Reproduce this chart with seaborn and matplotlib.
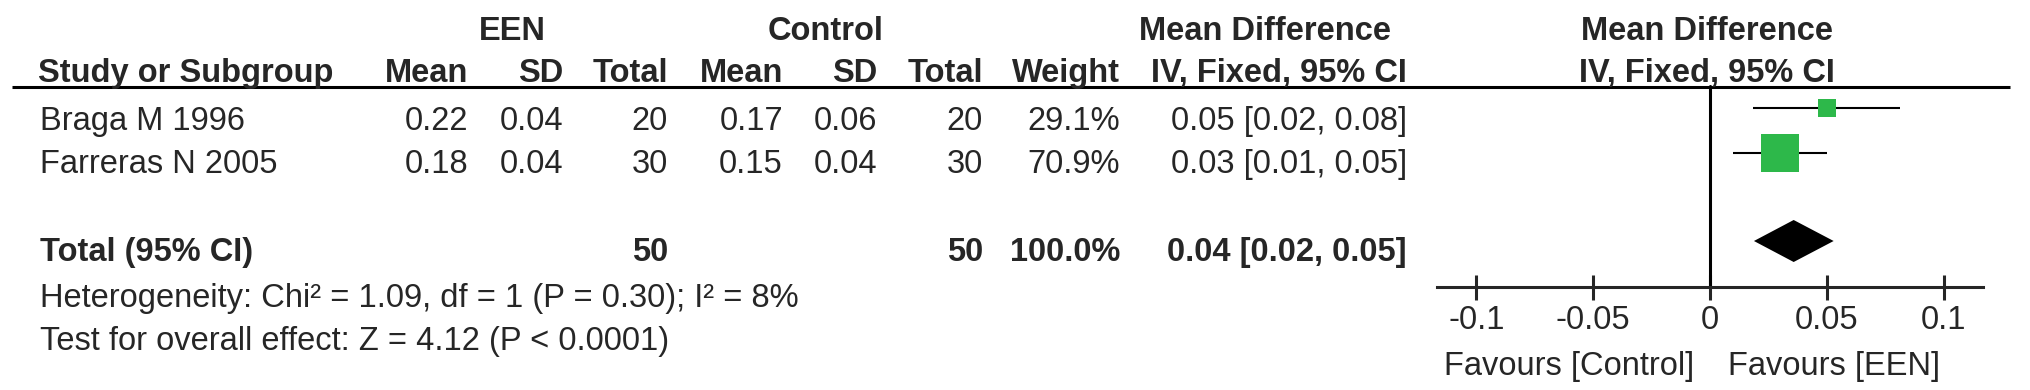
import matplotlib
matplotlib.use("Agg")
import matplotlib.pyplot as plt
import seaborn as sns
import pandas as pd

# data
studies = ["Braga M 1996", "Farreras N 2005"]
een_mean = [0.22, 0.18]
een_sd = [0.04, 0.04]
een_n = [20, 30]
ctl_mean = [0.17, 0.15]
ctl_sd = [0.06, 0.04]
ctl_n = [20, 30]
weight = [29.1, 70.9]
md = [0.050, 0.030]
ci_lo = [0.0185, 0.0098]
ci_hi = [0.0815, 0.0502]
pooled_md = 0.0358
pooled_lo = 0.0188
pooled_hi = 0.0529
chi2, df, p_het, i2 = 1.09, 1, 0.30, 8
z_val = 4.12
xticks = [-0.1, -0.05, 0, 0.05, 0.1]
xtick_labels = ["-0.1", "-0.05", "0", "0.05", "0.1"]

sns.set_style("white")
plt.rcParams["font.family"] = ["Liberation Sans", "DejaVu Sans"]

W, H = 2031, 390
FS = 23.5
GREEN = "#2DB84A"

fig = plt.figure(figsize=(W / 100, H / 100), dpi=100)

# table part, pixel coordinates
ax_t = fig.add_axes([0, 0, 1, 1])
ax_t.set_xlim(0, W)
ax_t.set_ylim(H, 0)
ax_t.axis("off")


def txt(x, y, s, ha="right", bold=False):
    ax_t.text(x, y, s, ha=ha, va="baseline", fontsize=FS,
              fontweight="bold" if bold else "normal")


# headers
txt(512, 40, "EEN", ha="center", bold=True)
txt(826, 40, "Control", ha="center", bold=True)
txt(1265, 40, "Mean Difference", ha="center", bold=True)
txt(1707, 40, "Mean Difference", ha="center", bold=True)
txt(38, 82, "Study or Subgroup", ha="left", bold=True)
cols = [468, 563, 668, 783, 877, 983, 1120, 1407]
for x, s in zip(cols, ["Mean", "SD", "Total", "Mean", "SD", "Total", "Weight", "IV, Fixed, 95% CI"]):
    txt(x, 82, s, bold=True)
txt(1707, 82, "IV, Fixed, 95% CI", ha="center", bold=True)
ax_t.plot([12, 2010], [86.5, 86.5], color="black", lw=2.2, solid_capstyle="butt")

row_base = [130, 173]
for i, name in enumerate(studies):
    y = row_base[i]
    txt(40, y, name, ha="left")
    vals = [f"{een_mean[i]:.2f}", f"{een_sd[i]:.2f}", f"{een_n[i]}",
            f"{ctl_mean[i]:.2f}", f"{ctl_sd[i]:.2f}", f"{ctl_n[i]}",
            f"{weight[i]:.1f}%",
            f"{md[i]:.2f} [{ci_lo[i]:.2f}, {ci_hi[i]:.2f}]"]
    for x, s in zip(cols, vals):
        txt(x, y, s)

txt(40, 261, "Total (95% CI)", ha="left", bold=True)
txt(668, 261, f"{sum(een_n)}", bold=True)
txt(983, 261, f"{sum(ctl_n)}", bold=True)
txt(1120, 261, f"{sum(weight):.1f}%", bold=True)
txt(1407, 261, f"{pooled_md:.2f} [{pooled_lo:.2f}, {pooled_hi:.2f}]", bold=True)
txt(40, 307, f"Heterogeneity: Chi² = {chi2:.2f}, df = {df} (P = {p_het:.2f}); I² = {i2}%", ha="left")
txt(40, 350, f"Test for overall effect: Z = {z_val:.2f} (P < 0.0001)", ha="left")

# forest part: x in mean difference units, y in pixels
x0, x1 = 1437, 1983
ax_f = fig.add_axes([x0 / W, 0, (x1 - x0) / W, 1])
ax_f.patch.set_alpha(0)
ax_f.set_xlim(-0.1168, 0.1168)
ax_f.set_ylim(H, 0)

row_y = [108, 153]
axis_y = 287
df_plot = pd.DataFrame({"md": md, "y": row_y, "weight": weight})
ax_f.hlines(row_y, ci_lo, ci_hi, color="black", lw=1.5)
sns.scatterplot(data=df_plot, x="md", y="y", size="weight", sizes=(170, 750),
                marker="s", color=GREEN, linewidth=0, legend=False, ax=ax_f, zorder=3)
dy = 21
ax_f.fill([pooled_lo, pooled_md, pooled_hi, pooled_md],
          [241, 241 - dy, 241, 241 + dy], color="black", lw=0)
ax_f.plot([0, 0], [86, axis_y], color="black", lw=2.2)

for s in ["top", "right", "left"]:
    ax_f.spines[s].set_visible(False)
ax_f.spines["bottom"].set_position(("data", axis_y))
ax_f.spines["bottom"].set_linewidth(2.2)
ax_f.set_yticks([])
ax_f.set_xticks(xticks)
ax_f.set_xticklabels(xtick_labels)
ax_f.tick_params(axis="x", direction="inout", length=18, width=2.2,
                 labelsize=FS, pad=4, bottom=True)
ax_f.set_xlabel("")
ax_f.set_ylabel("")
ax_f.text(-0.0068, 375, "Favours [Control]", ha="right", va="baseline", fontsize=FS)
ax_f.text(0.0077, 375, "Favours [EEN]", ha="left", va="baseline", fontsize=FS)

fig.savefig("out.png", dpi=100)
